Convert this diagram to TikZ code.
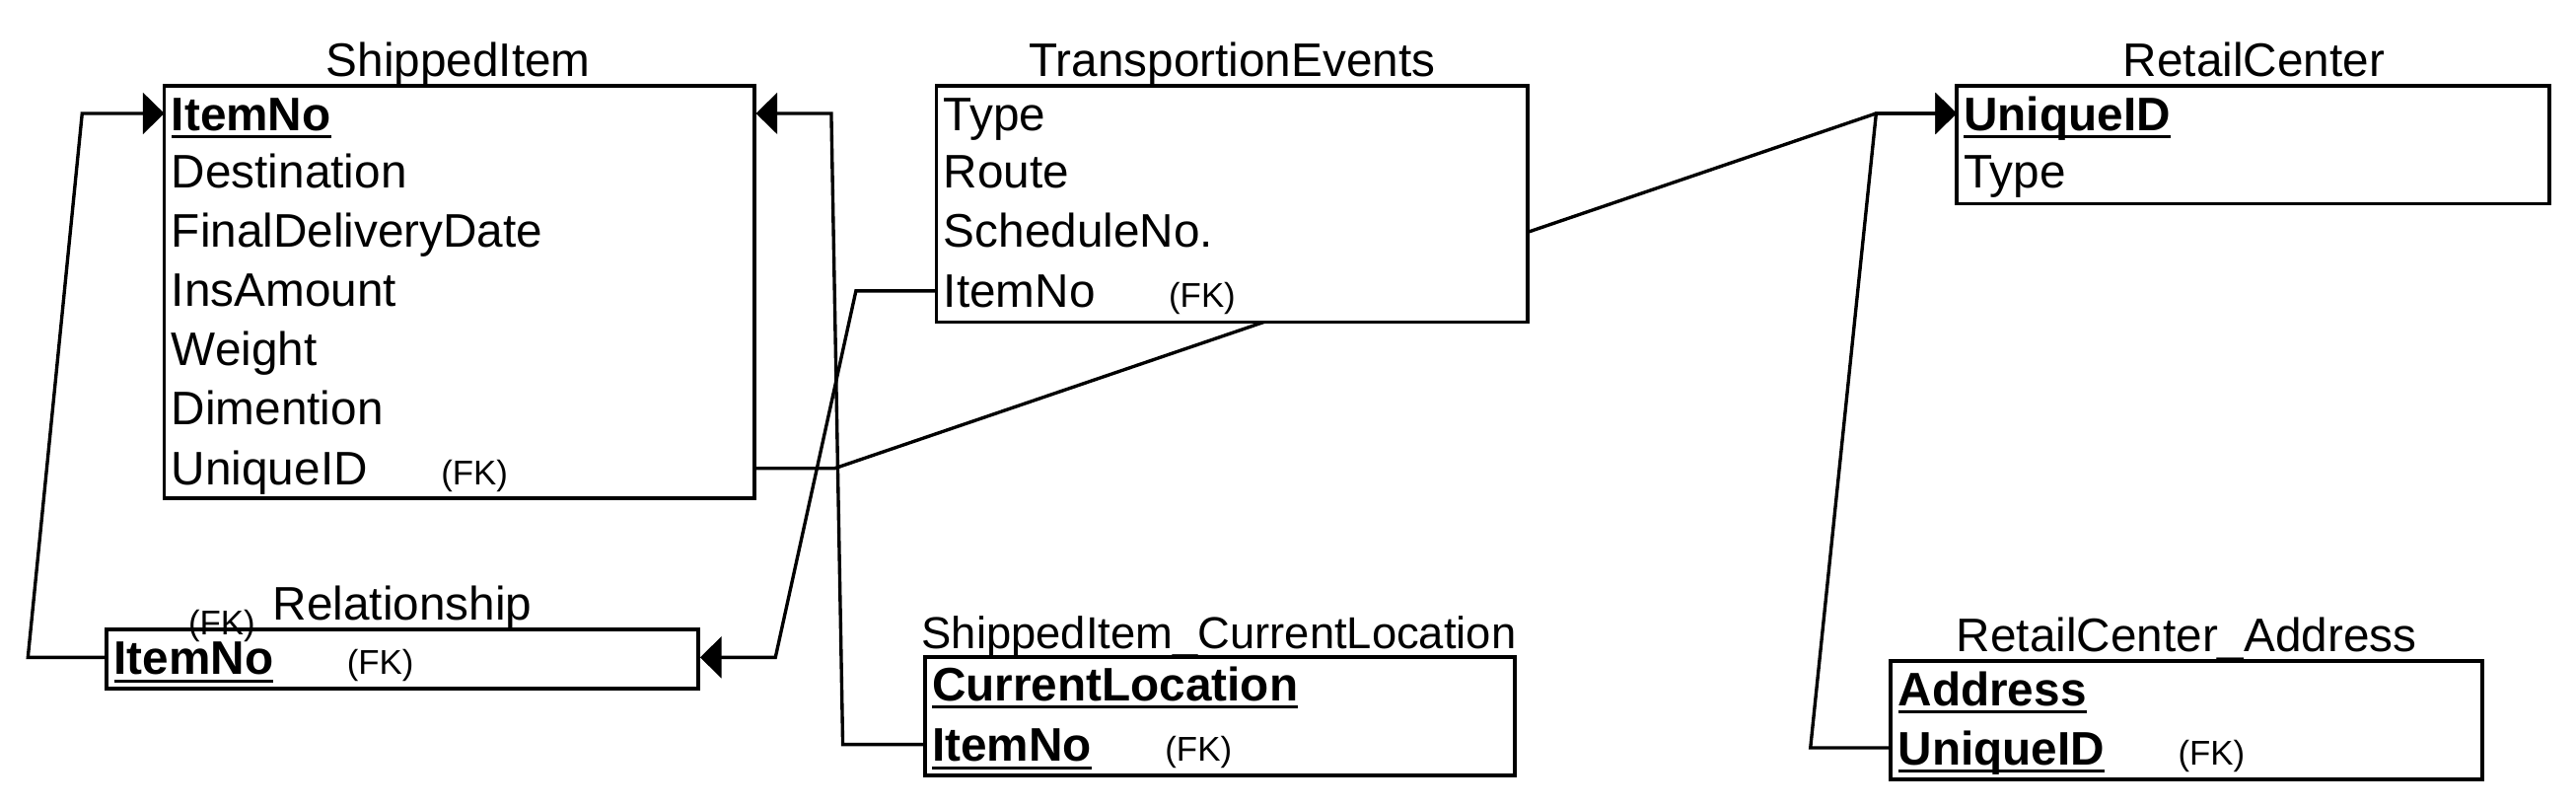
\documentclass[tikz,border=0pt]{standalone}
\usepackage{fontspec}
\setmainfont{Liberation Sans}
\usetikzlibrary{arrows.meta, fit, positioning, backgrounds}
% bold key with a thick underline
\newcommand{\pkey}[1]{\setbox0\hbox{\bfseries #1}\rlap{\rule[-2.8pt]{\wd0}{1pt}}\box0}

\begin{document}
\begin{tikzpicture}[x=0.02cm, y=-0.02cm,
  tbl/.style={draw, line width=1.3pt, fill=white, inner sep=0pt},
  ttl/.style={anchor=base, inner sep=0pt, font=\fontsize{16.3}{19}\selectfont},
  attr/.style={anchor=west, inner xsep=2.3pt, inner ysep=0pt, text height=11.7pt, text depth=0pt, font=\fontsize{16.3}{19}\selectfont},
  fk/.style={inner sep=0pt, font=\fontsize{11.9}{14}\selectfont},
  link/.style={line width=1.15pt, -{Triangle[length=0.26cm, width=0.5cm]}}]
  \useasboundingbox (0,0) rectangle (1568,491);

  % ShippedItem
  \node[ttl] (si-t) at (279,46.5) {ShippedItem};
  \node[tbl, fit={(100,52) (459,303)}] (si) {};
  \node[attr] (si-itemno) at (100,69) {\pkey{ItemNo}};
  \node[attr] (si-dest) at (100,104) {Destination};
  \node[attr] (si-fdd) at (100,140) {FinalDeliveryDate};
  \node[attr] (si-ins) at (100,176) {InsAmount};
  \node[attr] (si-wt) at (100,212) {Weight};
  \node[attr] (si-dim) at (100,248) {Dimention};
  \node[attr] (si-uid) at (100,285) {UniqueID};
  \node[fk, base right=0.8cm of si-uid] (si-fk) {(FK)};

  % TransportionEvents
  \node[ttl] (te-t) at (750,46.5) {TransportionEvents};
  \node[tbl, fit={(570,52) (930,196)}] (te) {};
  \node[attr] (te-type) at (570,69) {Type};
  \node[attr] (te-route) at (570,104) {Route};
  \node[attr] (te-sched) at (570,140) {ScheduleNo.};
  \node[attr] (te-itemno) at (570,177) {ItemNo};
  \node[fk, base right=0.8cm of te-itemno] (te-fk) {(FK)};

  % Relationship
  \node[ttl] (rel-t) at (245,377.5) {Relationship};
  \node[tbl, fit={(65,383) (425,419)}] (rel) {};
  \node[attr] (rel-itemno) at (65,400) {\pkey{ItemNo}};
  \node[fk, base right=0.8cm of rel-itemno] (rel-fk) {(FK)};
  \node[fk] (rel-fk2) at (135,381) {(FK)};

  % ShippedItem_CurrentLocation
  \node[ttl, font=\fontsize{15.5}{18}\selectfont] (sicl-t) at (742,394.5) {ShippedItem\_CurrentLocation};
  \node[tbl, fit={(563,400) (922,472)}] (sicl) {};
  \node[attr] (sicl-loc) at (563,416) {\pkey{CurrentLocation}};
  \node[attr] (sicl-itemno) at (563,453) {\pkey{ItemNo}};
  \node[fk, base right=0.8cm of sicl-itemno] (sicl-fk) {(FK)};

  % RetailCenter
  \node[ttl] (rc-t) at (1372,46.5) {RetailCenter};
  \node[tbl, fit={(1191,52) (1552,124)}] (rc) {};
  \node[attr] (rc-uid) at (1191,69) {\pkey{UniqueID}};
  \node[attr] (rc-type) at (1191,104) {Type};

  % RetailCenter_Address
  \node[ttl] (rca-t) at (1331,396.5) {RetailCenter\_Address};
  \node[tbl, fit={(1151,402) (1511,474)}] (rca) {};
  \node[attr] (rca-addr) at (1151,419) {\pkey{Address}};
  \node[attr] (rca-uid) at (1151,455) {\pkey{UniqueID}};
  \node[fk, base right=0.8cm of rca-uid] (rca-fk) {(FK)};

  % links, under the boxes
  \begin{scope}[on background layer]
    \draw[link] (rel-itemno.west) -- (17,400) -- (50,69) -- (si-itemno.west);
    \draw[link] (sicl-itemno.west) -- (513,453) -- (506,69) -- (si-itemno -| si.east);
    \draw[link] (si-uid -| si.east) -- (508,285) -- (1142,69) -- (rc-uid.west);
    \draw[link] (rca-uid.west) -- (1102,455) -- (1142,69) -- (rc-uid.west);
    \draw[link] (te-itemno.west) -- (521,177) -- (472,400) -- (rel-itemno -| rel.east);
  \end{scope}
\end{tikzpicture}
\end{document}
